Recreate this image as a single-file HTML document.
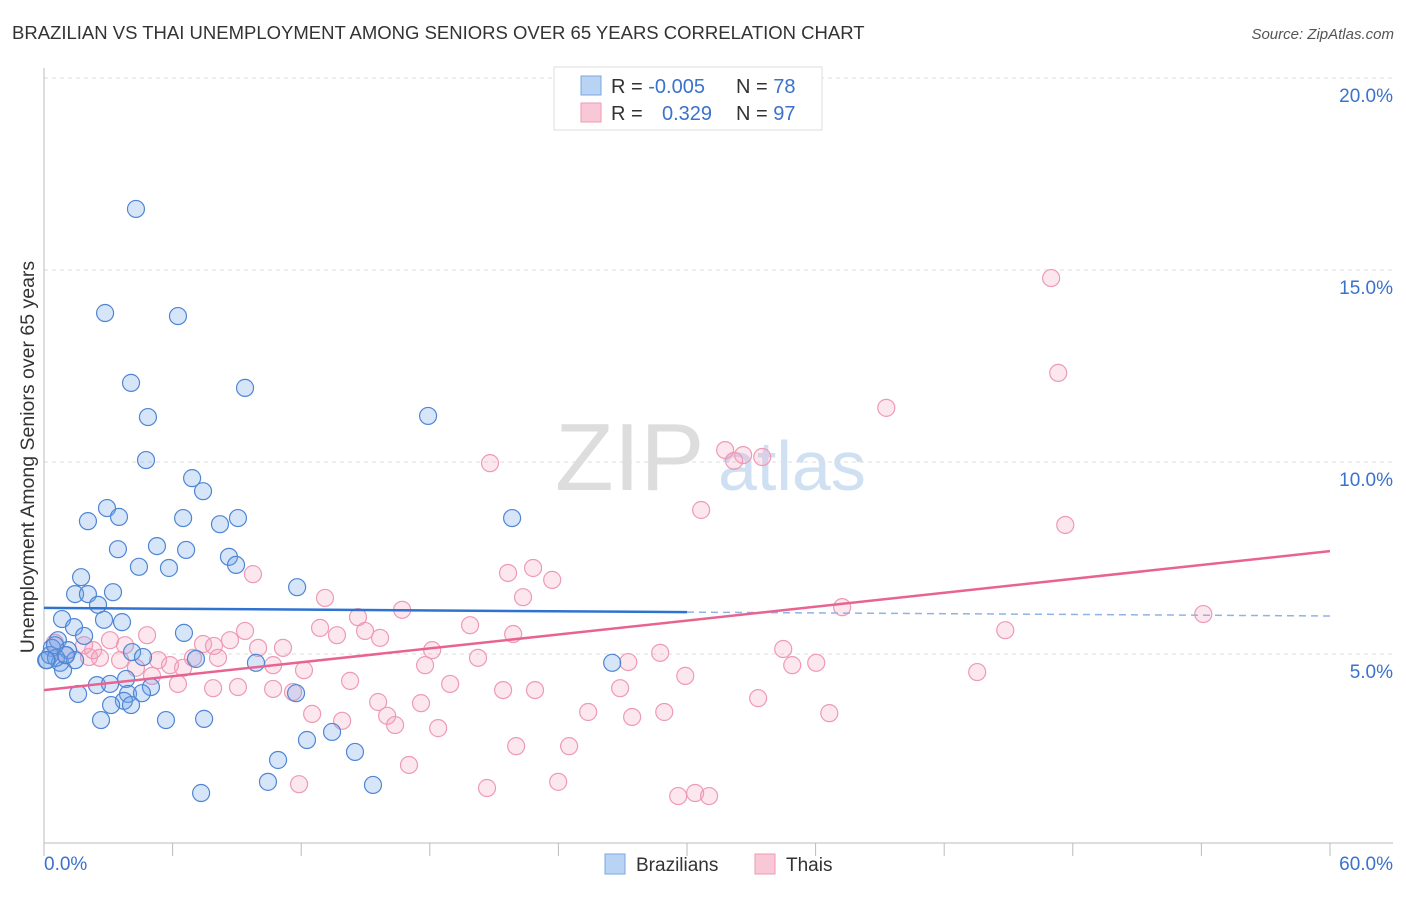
<!DOCTYPE html>
<html><head><meta charset="utf-8"><style>
body{margin:0;background:#fff;font-family:"Liberation Sans",sans-serif;}
svg text{font-family:"Liberation Sans",sans-serif;}
</style></head><body>
<svg id="chart" width="1406" height="892" xmlns="http://www.w3.org/2000/svg">
<text x="12" y="39" font-size="18.5" fill="#333">BRAZILIAN VS THAI UNEMPLOYMENT AMONG SENIORS OVER 65 YEARS CORRELATION CHART</text>
<text x="1394" y="39" font-size="15" fill="#555" font-style="italic" text-anchor="end">Source: ZipAtlas.com</text>
<text x="34" y="457" font-size="19.5" fill="#333" text-anchor="middle" transform="rotate(-90 34 457)">Unemployment Among Seniors over 65 years</text>
<text x="555" y="490" font-size="96" fill="#ddd" font-family="Liberation Serif">ZIP</text>
<text x="718" y="490" font-size="70" fill="#cfe0f3">atlas</text>
<g id="grid"></g><g id="axes"></g><g id="pts"></g><g id="trends"></g>
<g>
<rect x="554" y="67" width="268" height="63" fill="#fff" stroke="#ddd"/>
<rect x="581" y="76" width="20" height="19" fill="#b9d3f5" stroke="#7aa7e0"/>
<rect x="581" y="103" width="20" height="19" fill="#f9c8d7" stroke="#ee9ab5"/>
<text x="611" y="93" font-size="20" fill="#333">R = <tspan fill="#3a72cc">-0.005</tspan></text>
<text x="736" y="93" font-size="20" fill="#333">N = <tspan fill="#3a72cc">78</tspan></text>
<text x="611" y="120" font-size="20" fill="#333">R = <tspan fill="#3a72cc" x="662">0.329</tspan></text>
<text x="736" y="120" font-size="20" fill="#333">N = <tspan fill="#3a72cc">97</tspan></text>
</g>
<g>
<rect x="605" y="854" width="20" height="20" fill="#b9d3f5" stroke="#7aa7e0"/>
<text x="636" y="871" font-size="19" fill="#333">Brazilians</text>
<rect x="755" y="854" width="20" height="20" fill="#f9c8d7" stroke="#ee9ab5"/>
<text x="786" y="871" font-size="19" fill="#333">Thais</text>
</g>
</svg>
<script>
const blueX=[4.29,2.85,6.25,4.06,9.38,4.85,17.92,4.76,6.91,2.94,7.42,2.05,3.50,6.49,9.05,8.21,5.27,3.45,6.63,8.63,4.43,5.83,8.96,1.73,3.22,1.45,2.05,11.81,2.52,0.84,2.80,3.64,21.84,1.40,1.87,0.65,6.53,0.37,1.12,4.11,4.62,7.09,9.89,26.51,0.14,0.75,1.45,0.89,2.47,3.08,3.83,4.99,1.59,3.92,4.57,3.73,3.13,4.06,2.66,5.69,7.47,12.27,13.44,14.51,10.92,10.45,15.35,7.33,11.76,0.28,0.56,1.03,0.51,0.1];
const blueY=[16.59,13.88,13.80,12.06,11.93,11.17,11.20,10.05,9.58,8.80,9.24,8.46,8.57,8.54,8.54,8.38,7.81,7.73,7.71,7.53,7.27,7.24,7.32,7.00,6.61,6.56,6.56,6.74,6.28,5.91,5.89,5.83,8.54,5.70,5.47,5.36,5.55,5.16,5.10,5.05,4.92,4.87,4.77,4.77,4.84,4.77,4.84,4.58,4.19,4.22,4.35,4.14,3.96,3.96,3.98,3.78,3.67,3.67,3.28,3.28,3.31,2.76,2.97,2.45,2.24,1.67,1.59,1.38,3.98,4.97,4.90,4.97,5.23,4.84];
const pinkX=[46.99,47.32,39.30,20.81,31.78,32.62,32.20,33.51,30.66,47.65,9.75,21.65,22.82,23.71,13.11,22.35,16.71,37.24,54.09,14.65,12.88,14.98,19.88,21.89,13.67,15.68,9.38,44.85,4.81,3.08,8.68,7.42,7.93,3.78,9.99,11.15,18.11,28.75,34.49,2.10,3.55,5.32,6.95,8.12,20.25,5.88,10.69,27.26,17.78,34.91,36.03,4.29,6.49,12.13,14.28,18.95,29.92,43.54,5.04,6.25,7.89,9.05,10.69,11.62,21.42,22.91,26.88,15.59,17.59,33.32,12.51,13.91,16.01,16.38,18.39,25.39,27.44,28.94,36.64,22.03,24.50,17.03,23.99,11.90,20.67,29.59,30.38,31.03,0.51,0.98,2.61,1.87,2.29];
const pinkY=[14.79,12.32,11.41,9.97,10.31,10.18,10.03,10.13,8.75,8.36,7.08,7.11,7.24,6.93,6.46,6.48,6.15,6.22,6.04,5.96,5.68,5.60,5.75,5.52,5.49,5.42,5.60,5.62,5.49,5.36,5.36,5.26,5.21,5.23,5.16,5.16,5.10,5.03,5.13,4.92,4.84,4.84,4.90,4.90,4.90,4.71,4.71,4.79,4.71,4.71,4.77,4.64,4.64,4.58,4.30,4.22,4.43,4.53,4.43,4.22,4.11,4.14,4.09,4.01,4.06,4.06,4.11,3.75,3.72,3.85,3.44,3.26,3.39,3.15,3.07,3.49,3.36,3.49,3.46,2.60,2.60,2.11,1.67,1.61,1.51,1.30,1.38,1.30,5.29,4.97,4.90,5.23,5.10];
const yTicks=[5,10,15,20];
const yTickLabels=["5.0%","10.0%","15.0%","20.0%"];
const blueTrend=[6.2,6.09,5.99];
const pinkTrend=[4.06,7.68];
const NS="http://www.w3.org/2000/svg";
const sx=v=>44+v*21.433;
const sy=v=>846-v*38.4;
function mk(t,a,p){const e=document.createElementNS(NS,t);for(const k in a)e.setAttribute(k,a[k]);p.appendChild(e);return e;}
const grid=document.getElementById('grid'),axes=document.getElementById('axes'),pts=document.getElementById('pts'),tr=document.getElementById('trends');
yTicks.forEach((t,i)=>{
 const l=mk('line',{x1:44,x2:1393,y1:sy(t),y2:sy(t),stroke:'#ddd','stroke-dasharray':'4,4'},grid);
 
 
 const tx=mk('text',{x:1393,y:sy(t)+24,'font-size':19,fill:'#3a72cc','text-anchor':'end'},axes);
 tx.textContent=yTickLabels[i];
 
 
});
const ax=mk('line',{x1:44,x2:1393,y1:843,y2:843,stroke:'#bbb'},axes);


const ay=mk('line',{x1:44,x2:44,y1:68,y2:843,stroke:'#bbb'},axes);


for(let i=0;i<=10;i++){const t=mk('line',{x1:sx(i*6),x2:sx(i*6),y1:843,y2:856,stroke:'#bbb'},axes);
 
 }
const x0=mk('text',{x:44,y:870,'font-size':19,fill:'#3a72cc'},axes);x0.textContent='0.0%';


const x1=mk('text',{x:1393,y:870,'font-size':19,fill:'#3a72cc','text-anchor':'end'},axes);x1.textContent='60.0%';


pinkX.forEach((x,i)=>{const c=mk('circle',{cx:sx(x),cy:sy(pinkY[i]),r:8.5,fill:'rgba(244,160,190,0.25)',stroke:'#ee9ab5','stroke-width':1.2},pts);
 
 });
blueX.forEach((x,i)=>{const c=mk('circle',{cx:sx(x),cy:sy(blueY[i]),r:8.5,fill:'rgba(110,160,235,0.28)',stroke:'#4f86d4','stroke-width':1.2},pts);
 
 });
const b1=mk('line',{x1:sx(0),y1:sy(blueTrend[0]),x2:sx(30),y2:sy(blueTrend[1]),stroke:'#2f72d0','stroke-width':2.5},tr);


const b2=mk('line',{x1:sx(30),y1:sy(blueTrend[1]),x2:sx(60),y2:sy(blueTrend[2]),stroke:'#8fb3e6','stroke-width':1.5,'stroke-dasharray':'7,5'},tr);


const p1=mk('line',{x1:sx(0),y1:sy(pinkTrend[0]),x2:sx(60),y2:sy(pinkTrend[1]),stroke:'#e8648f','stroke-width':2.5},tr);


</script>
</body></html>
